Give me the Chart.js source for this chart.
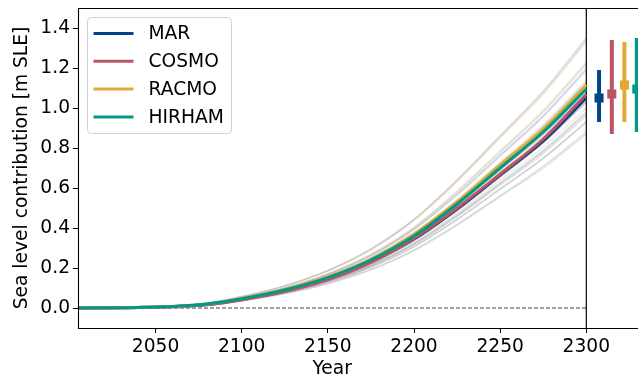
<!DOCTYPE html>
<html>
<head>
<meta charset="utf-8">
<script src="https://cdn.jsdelivr.net/npm/chart.js@4.4.1/dist/chart.umd.min.js"></script>
<style>
  html, body { margin: 0; padding: 0; background: #fff; }
  #wrap { width: 638px; height: 382px; position: relative; }
</style>
</head>
<body>
<div id="wrap"><canvas id="chart"></canvas></div>
<script>
// Greenland sea level contribution, four regional climate models + ensemble members

const years = [2005, 2040, 2060, 2080, 2100, 2125, 2150, 2175, 2200, 2225, 2250, 2275, 2300];

const modelNames = ["MAR", "COSMO", "RACMO", "HIRHAM"];
const modelColors = ["#004488", "#BB5566", "#DDAA33", "#009988"];
const memberColors = ["rgba(0,68,136,0.18)", "rgba(204,80,110,0.18)", "rgba(230,140,60,0.2)", "rgba(0,153,136,0.2)"];

const marMean    = [0, 0.002, 0.007, 0.018, 0.043, 0.085, 0.145, 0.230, 0.345, 0.495, 0.665, 0.835, 1.050];
const cosmoMean  = [0, 0.002, 0.006, 0.016, 0.040, 0.082, 0.142, 0.228, 0.348, 0.500, 0.670, 0.845, 1.068];
const racmoMean  = [0, 0.003, 0.008, 0.020, 0.047, 0.092, 0.155, 0.245, 0.370, 0.530, 0.715, 0.895, 1.115];
const hirhamMean = [0, 0.003, 0.008, 0.020, 0.046, 0.090, 0.152, 0.240, 0.360, 0.520, 0.700, 0.880, 1.095];
const means = [marMean, cosmoMean, racmoMean, hirhamMean];

// faint ensemble members per model
const marMembers = [
  [0, 0.003, 0.007, 0.017, 0.039, 0.076, 0.129, 0.204, 0.306, 0.442, 0.594, 0.748, 0.93],
  [0, 0.003, 0.007, 0.018, 0.041, 0.080, 0.136, 0.215, 0.322, 0.466, 0.626, 0.788, 0.98],
  [0, 0.003, 0.008, 0.019, 0.043, 0.084, 0.143, 0.226, 0.339, 0.489, 0.658, 0.828, 1.03],
  [0, 0.003, 0.008, 0.019, 0.045, 0.089, 0.150, 0.237, 0.355, 0.513, 0.690, 0.868, 1.08],
  [0, 0.003, 0.008, 0.020, 0.047, 0.093, 0.157, 0.247, 0.372, 0.537, 0.722, 0.909, 1.13],
  [0, 0.003, 0.009, 0.021, 0.050, 0.098, 0.165, 0.261, 0.392, 0.565, 0.760, 0.957, 1.19]
];
const cosmoMembers = [
  [0, 0.002, 0.006, 0.016, 0.037, 0.071, 0.121, 0.191, 0.286, 0.413, 0.556, 0.699, 0.87],
  [0, 0.003, 0.007, 0.017, 0.040, 0.079, 0.133, 0.210, 0.316, 0.456, 0.613, 0.772, 0.96],
  [0, 0.002, 0.007, 0.018, 0.042, 0.083, 0.141, 0.224, 0.336, 0.486, 0.652, 0.824, 1.03],
  [0, 0.003, 0.008, 0.020, 0.046, 0.090, 0.153, 0.241, 0.362, 0.523, 0.703, 0.884, 1.10],
  [0, 0.003, 0.009, 0.022, 0.050, 0.098, 0.167, 0.263, 0.395, 0.570, 0.767, 0.965, 1.20],
  [0, 0.004, 0.010, 0.024, 0.056, 0.110, 0.186, 0.293, 0.441, 0.637, 0.856, 1.077, 1.34]
];
const racmoMembers = [
  [0, 0.002, 0.007, 0.017, 0.040, 0.077, 0.130, 0.205, 0.308, 0.444, 0.596, 0.750, 0.93],
  [0, 0.003, 0.007, 0.018, 0.042, 0.082, 0.139, 0.219, 0.329, 0.475, 0.639, 0.804, 1.00],
  [0, 0.003, 0.008, 0.019, 0.045, 0.088, 0.149, 0.234, 0.352, 0.508, 0.684, 0.860, 1.07],
  [0, 0.003, 0.008, 0.021, 0.048, 0.093, 0.158, 0.250, 0.375, 0.542, 0.728, 0.917, 1.14],
  [0, 0.003, 0.009, 0.022, 0.052, 0.101, 0.171, 0.269, 0.405, 0.584, 0.786, 0.989, 1.23],
  [0, 0.004, 0.010, 0.024, 0.056, 0.109, 0.185, 0.291, 0.438, 0.632, 0.850, 1.069, 1.33]
];
const hirhamMembers = [
  [0, 0.002, 0.006, 0.016, 0.037, 0.072, 0.122, 0.193, 0.290, 0.418, 0.562, 0.708, 0.88],
  [0, 0.003, 0.007, 0.017, 0.041, 0.080, 0.135, 0.212, 0.319, 0.461, 0.620, 0.780, 0.97],
  [0, 0.003, 0.008, 0.019, 0.044, 0.086, 0.146, 0.230, 0.345, 0.499, 0.671, 0.844, 1.05],
  [0, 0.003, 0.008, 0.020, 0.047, 0.092, 0.156, 0.245, 0.368, 0.532, 0.716, 0.900, 1.12],
  [0, 0.003, 0.009, 0.022, 0.051, 0.100, 0.170, 0.267, 0.401, 0.580, 0.780, 0.981, 1.22],
  [0, 0.004, 0.010, 0.024, 0.057, 0.111, 0.188, 0.296, 0.444, 0.641, 0.863, 1.085, 1.35]
];
const members = [marMembers, cosmoMembers, racmoMembers, hirhamMembers];

// 2300 spread markers in the side panel
const errX    = [2307.4, 2314.8, 2322.1, 2329.3];
const errLow  = [0.93, 0.87, 0.93, 0.88];
const errHigh = [1.19, 1.34, 1.33, 1.35];
const errMid  = [1.05, 1.07, 1.115, 1.095];

const xTicks = [2050, 2100, 2150, 2200, 2250, 2300];
const yTicks = [0.0, 0.2, 0.4, 0.6, 0.8, 1.0, 1.2, 1.4];
const xMin = 2005, xMax = 2330, yMin = -0.1, yMax = 1.5;
const endYear = 2300;

const FONT = "'DejaVu Sans', sans-serif";
const FS = 18.67;

function toPoints(vals) {
    return vals.map((v, i) => ({ x: years[i], y: v }));
}

const datasets = [];

members.forEach((group, m) => {
    group.forEach(vals => {
        datasets.push({
            data: toPoints(vals),
            borderColor: memberColors[m],
            borderWidth: 1.5,
            pointRadius: 0,
            cubicInterpolationMode: "monotone",
            order: 10
        });
    });
});

// zero line and the 2300 divider
datasets.push({
    data: [{ x: xMin, y: 0 }, { x: endYear, y: 0 }],
    borderColor: "#444",
    borderWidth: 1.2,
    borderDash: [4, 2],
    pointRadius: 0,
    order: 9
});
datasets.push({
    data: [{ x: endYear, y: yMin - 1 }, { x: endYear, y: yMax + 1 }],
    borderColor: "#000",
    borderWidth: 1.2,
    pointRadius: 0,
    order: 9
});

means.forEach((vals, m) => {
    datasets.push({
        label: modelNames[m],
        data: toPoints(vals),
        borderColor: modelColors[m],
        borderWidth: 3,
        pointRadius: 0,
        cubicInterpolationMode: "monotone",
        order: 4 - m
    });
});

errX.forEach((x, m) => {
    datasets.push({
        data: [{ x: x, y: errLow[m] }, { x: x, y: errHigh[m] }],
        borderColor: modelColors[m],
        borderWidth: 4,
        borderCapStyle: "butt",
        pointRadius: 0,
        order: 0
    });
    datasets.push({
        data: [{ x: x, y: errMid[m] }],
        showLine: false,
        pointStyle: "rect",
        pointRadius: 6.4,
        pointBackgroundColor: modelColors[m],
        pointBorderWidth: 0,
        order: 0
    });
});

const framePlugin = {
    id: "frame",
    afterDatasetsDraw(chart) {
        const { ctx, chartArea: a } = chart;
        ctx.save();
        ctx.strokeStyle = "#000";
        ctx.lineWidth = 1.1;
        ctx.beginPath();
        ctx.moveTo(a.left + 0.5, a.bottom + 0.5);
        ctx.lineTo(a.left + 0.5, a.top + 0.5);
        ctx.lineTo(a.right + 2, a.top + 0.5);
        ctx.moveTo(a.left, a.bottom + 0.5);
        ctx.lineTo(a.right + 2, a.bottom + 0.5);
        ctx.stroke();

        // x title sits under the main panel only (xMin .. 2300)
        const xs = chart.scales.x;
        const cx = (xs.getPixelForValue(xMin) + xs.getPixelForValue(endYear)) / 2;
        ctx.font = FS + "px " + FONT;
        ctx.fillStyle = "#000";
        ctx.textAlign = "center";
        ctx.textBaseline = "middle";
        ctx.fillText("Year", cx, 369);
        ctx.restore();
    }
};

const legendPlugin = {
    id: "boxLegend",
    afterDraw(chart) {
        const { ctx, chartArea: a } = chart;
        const x0 = a.left + 9.5, y0 = 17.5, w = 144, h = 116, r = 4;
        ctx.save();
        ctx.beginPath();
        ctx.roundRect(x0, y0, w, h, r);
        ctx.fillStyle = "rgba(255,255,255,0.8)";
        ctx.fill();
        ctx.strokeStyle = "#d0d0d0";
        ctx.lineWidth = 1;
        ctx.stroke();
        ctx.font = FS + "px " + FONT;
        ctx.textBaseline = "middle";
        ctx.fillStyle = "#000";
        modelNames.forEach((name, i) => {
            const y = 33.5 + i * 27.8;
            ctx.beginPath();
            ctx.moveTo(x0 + 6, y);
            ctx.lineTo(x0 + 46, y);
            ctx.strokeStyle = modelColors[i];
            ctx.lineWidth = 3;
            ctx.stroke();
            ctx.fillText(name, x0 + 61, y + 1);
        });
        ctx.restore();
    }
};

new Chart(document.getElementById("chart"), {
    type: "line",
    data: { datasets: datasets },
    options: {
        responsive: true,
        maintainAspectRatio: false,
        animation: false,
        events: [],
        layout: { autoPadding: false, padding: { top: 8, right: 0, left: 0, bottom: 0 } },
        plugins: {
            legend: { display: false },
            tooltip: { enabled: false }
        },
        scales: {
            x: {
                type: "linear",
                min: xMin,
                max: xMax,
                afterFit: s => {
                    s.height = 54;
                    s.paddingLeft = 0; s.paddingRight = 0;
                },
                afterBuildTicks: s => { s.ticks = xTicks.map(v => ({ value: v })); },
                grid: { drawOnChartArea: false, drawTicks: true, tickLength: 5, color: "#000" },
                border: { display: false },
                ticks: {
                    font: { family: FONT, size: FS },
                    color: "#000",
                    padding: 3,
                    maxRotation: 0,
                    callback: v => String(v)
                },
                title: { display: false }
            },
            y: {
                type: "linear",
                min: yMin,
                max: yMax,
                afterFit: s => {
                    s.width = 78;
                    s.paddingTop = 0; s.paddingBottom = 0;
                },
                afterBuildTicks: s => { s.ticks = yTicks.map(v => ({ value: v })); },
                grid: { drawOnChartArea: false, drawTicks: true, tickLength: 5, color: "#000" },
                border: { display: false },
                ticks: {
                    font: { family: FONT, size: FS },
                    color: "#000",
                    padding: 3,
                    callback: v => v.toFixed(1)
                },
                title: {
                    display: true,
                    text: "Sea level contribution [m SLE]",
                    font: { family: FONT, size: FS },
                    color: "#000",
                    padding: { top: 11, bottom: 0 }
                }
            }
        }
    },
    plugins: [framePlugin, legendPlugin]
});
</script>
</body>
</html>
